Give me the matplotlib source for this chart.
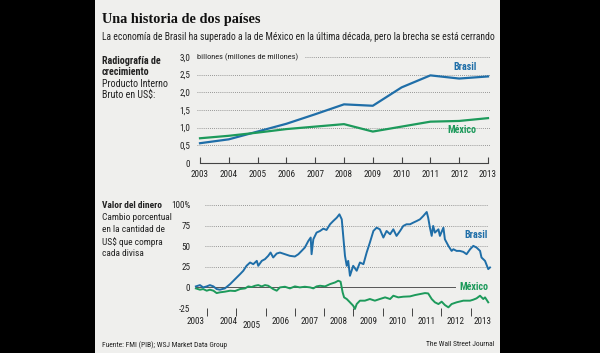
import matplotlib
matplotlib.use('Agg')
import matplotlib.pyplot as plt
from matplotlib import font_manager as fm
from matplotlib.patches import Rectangle

# PIB en billones de US$
anios = [2003, 2004, 2005, 2006, 2007, 2008, 2009, 2010, 2011, 2012, 2013]
pib_brasil = [0.56, 0.67, 0.89, 1.11, 1.38, 1.66, 1.62, 2.14, 2.48, 2.39, 2.45]
pib_mexico = [0.70, 0.77, 0.86, 0.96, 1.03, 1.10, 0.89, 1.03, 1.17, 1.19, 1.27]

# cambio porcentual frente al dolar
fecha_brasil = [2003.62, 2003.76, 2003.87, 2003.99, 2004.10, 2004.22, 2004.33, 2004.44, 2004.61, 2004.79,
                2004.96, 2005.13, 2005.24, 2005.35, 2005.47, 2005.58, 2005.70, 2005.75, 2005.87, 2005.98,
                2006.09, 2006.17, 2006.26, 2006.38, 2006.49, 2006.66, 2006.83, 2007.00, 2007.12, 2007.23,
                2007.34, 2007.46, 2007.54, 2007.57, 2007.63, 2007.74, 2007.86, 2007.97, 2008.08, 2008.20,
                2008.31, 2008.43, 2008.52, 2008.60, 2008.65, 2008.71, 2008.77, 2008.82, 2008.88, 2008.99,
                2009.11, 2009.22, 2009.34, 2009.45, 2009.56, 2009.68, 2009.79, 2009.90, 2010.02, 2010.13,
                2010.25, 2010.36, 2010.47, 2010.59, 2010.70, 2010.81, 2010.93, 2011.04, 2011.16, 2011.27,
                2011.38, 2011.50, 2011.55, 2011.61, 2011.67, 2011.72, 2011.78, 2011.90, 2011.95, 2012.07,
                2012.12, 2012.24, 2012.35, 2012.41, 2012.52, 2012.63, 2012.75, 2012.86, 2012.98, 2013.09,
                2013.20, 2013.32, 2013.37, 2013.49, 2013.60, 2013.66]
cambio_brasil = [1.2, 2.8, 0, 1.2, 2.8, 1.2, -2.0, -2.8, -1.2, 4.0,
                 10.1, 16.1, 20.2, 26.2, 30.2, 28.2, 32.2, 26.2, 32.2, 34.3,
                 38.3, 42.3, 36.3, 41.1, 42.3, 40.3, 38.3, 37.5, 40.3, 44.3,
                 48.4, 56.4, 60.5, 40.3, 58.4, 66.5, 68.5, 71.3, 69.7, 76.6,
                 80.6, 84.6, 88.7, 82.6, 62.5, 38.3, 26.2, 32.2, 14.1, 26.2,
                 20.2, 30.2, 28.2, 42.3, 54.4, 68.5, 72.5, 70.5, 60.5, 68.5,
                 64.5, 70.5, 62.5, 68.5, 74.6, 76.6, 76.6, 78.6, 80.6, 82.6,
                 86.6, 91.5, 84.6, 72.5, 62.5, 74.6, 66.5, 70.5, 62.5, 72.5,
                 58.4, 50.4, 44.3, 46.3, 44.3, 44.3, 43.1, 40.3, 46.3, 50.4,
                 48.4, 44.3, 36.3, 32.2, 22.2, 24.2]

fecha_mexico = [2003.62, 2003.76, 2003.87, 2003.99, 2004.10, 2004.22, 2004.33, 2004.44, 2004.61, 2004.79,
                2004.96, 2005.13, 2005.30, 2005.41, 2005.52, 2005.64, 2005.75, 2005.87, 2005.98, 2006.09,
                2006.26, 2006.38, 2006.49, 2006.66, 2006.83, 2007.00, 2007.17, 2007.34, 2007.52, 2007.63,
                2007.74, 2007.86, 2008.03, 2008.20, 2008.37, 2008.48, 2008.56, 2008.63, 2008.68, 2008.77,
                2008.88, 2008.99, 2009.05, 2009.11, 2009.22, 2009.39, 2009.56, 2009.73, 2009.90, 2010.08,
                2010.25, 2010.36, 2010.53, 2010.70, 2010.93, 2011.10, 2011.27, 2011.44, 2011.55, 2011.67,
                2011.78, 2011.90, 2012.01, 2012.12, 2012.24, 2012.35, 2012.52, 2012.75, 2012.98, 2013.09,
                2013.20, 2013.32, 2013.43, 2013.49, 2013.60]
cambio_mexico = [-1.2, -2.8, -2.0, -4.0, -2.8, -4.0, -6.9, -6.0, -5.2, -4.0,
                 -4.4, -2.0, -1.2, 1.2, 0.4, 2.0, 2.8, 1.2, 2.8, 2.0,
                 -2.0, -4.0, 0, 0.8, -1.2, 1.2, 0, 0.8, 0, -1.2,
                 1.2, 2.0, 1.2, 4.0, 6.0, 8.1, 6.9, -6.0, -12.1, -14.1,
                 -18.1, -22.2, -26.2, -20.2, -16.1, -16.1, -14.1, -16.1, -14.1, -12.1,
                 -14.1, -10.1, -12.1, -11.3, -10.9, -9.3, -8.1, -6.9, -7.3, -14.1,
                 -18.1, -20.2, -17.3, -21.4, -24.2, -20.2, -18.1, -16.1, -16.1, -14.9,
                 -13.3, -10.1, -14.1, -12.1, -18.1]

pib_ticks = [0, 0.5, 1.0, 1.5, 2.0, 2.5, 3.0]
pib_labels = ['0', '0,5', '1,0', '1,5', '2,0', '2,5', '3,0']
cambio_ticks = [-25, 0, 25, 50, 75, 100]
cambio_labels = ['-25', '0', '25', '50', '75', '100%']

AZUL = '#1f6ea8'
VERDE = '#1d9a5b'
TEXTO = '#222222'
GRIS = '#7a7a7a'
FONDO = '#efefed'


def have(name):
    try:
        fm.findfont(fm.FontProperties(family=name), fallback_to_default=False)
        return True
    except ValueError:
        return False


candidatas = ['Roboto Condensed', 'Liberation Sans Narrow', 'Open Sans Condensed',
              'Noto Sans Condensed', 'DejaVu Sans Condensed', 'Liberation Sans']
NARROW = next((f for f in candidatas if have(f)), 'DejaVu Sans')
plt.rcParams['font.family'] = [NARROW, 'DejaVu Sans']

W, H = 600, 353
fig = plt.figure(figsize=(W / 100, H / 100), dpi=100)
fig.patch.set_facecolor('black')
fig.patches.append(Rectangle((95 / W, 0), 405 / W, 1, transform=fig.transFigure,
                             facecolor=FONDO, edgecolor='none', zorder=-10))
renderer = fig.canvas.get_renderer()


def fx(px):
    return px / W


def fy(py):
    return 1 - py / H


def box(x0, y0, x1, y1):
    return [fx(x0), fy(y1), (x1 - x0) / W, (y1 - y0) / H]


def fit(t, ancho):
    # ajusta el tamaño de letra para que el texto ocupe 'ancho' pixeles
    w = t.get_window_extent(renderer).width
    t.set_fontsize(t.get_fontsize() * ancho / w)
    return t.get_fontsize()


# titulos
t = fig.text(fx(102), fy(20), 'Una historia de dos países', family='Liberation Serif',
             weight='bold', fontsize=11, color='#111', va='center')
fit(t, 158)
t = fig.text(fx(102), fy(37), 'La economía de Brasil ha superado a la de México en la última década, '
             'pero la brecha se está cerrando', fontsize=7.2, color=TEXTO, va='center')
fit(t, 392)

# panel superior
t = fig.text(fx(102), fy(84), 'Producto Interno', fontsize=7.3, color=TEXTO, va='center')
tam = min(fit(t, 66), 7.5)
t.set_fontsize(tam)
fig.text(fx(102), fy(61), 'Radiografía de', fontsize=tam, weight='bold', color=TEXTO, va='center')
fig.text(fx(102), fy(72), 'crecimiento', fontsize=tam, weight='bold', color=TEXTO, va='center')
fig.text(fx(102), fy(95), 'Bruto en US$:', fontsize=tam, color=TEXTO, va='center')

t = fig.text(0, 0, '2003', fontsize=7)
tam_eje = min(fit(t, 18), 7)
t.remove()

ax1 = fig.add_axes(box(197, 57, 490, 163))
ax1.set_facecolor('none')
ax1.set_xlim(2003 - 3 / 28.8, 2013 + 2 / 28.8)
ax1.set_ylim(0, 3.0)
for y in pib_ticks[1:-1]:
    ax1.axhline(y, color=GRIS, lw=0.6, ls=(0, (1, 1.5)), zorder=1)
ax1.axhline(3.0, xmin=0.37, xmax=1, color=GRIS, lw=0.6, ls=(0, (1, 1.5)), zorder=1)
t = ax1.text(0, 3.0, 'billones (millones de millones)', transform=ax1.get_yaxis_transform(),
             fontsize=6.6, color=TEXTO, va='center', ha='left')
fit(t, 102)
ax1.plot([anios[0], anios[-1]], [0, 0], color='#444', lw=0.8, clip_on=False, zorder=2)
ax1.plot(anios, pib_brasil, color=AZUL, lw=1.6, clip_on=False, zorder=3)
ax1.plot(anios, pib_mexico, color=VERDE, lw=1.6, clip_on=False, zorder=3)
ax1.text(2012.6, 2.73, 'Brasil', color=AZUL, weight='bold', fontsize=tam, ha='right', va='center')
ax1.text(2012.6, 0.94, 'México', color=VERDE, weight='bold', fontsize=tam, ha='right', va='center')
for s in ax1.spines.values():
    s.set_visible(False)
ax1.set_yticks(pib_ticks)
ax1.set_yticklabels(pib_labels)
ax1.set_xticks(anios)
ax1.set_xticklabels([str(a) for a in anios])
ax1.tick_params(axis='y', length=0, pad=5, labelsize=tam_eje, labelcolor=TEXTO)
ax1.tick_params(axis='x', direction='in', length=4.5, width=0.8, color='#444',
                pad=5, labelsize=tam_eje, labelcolor=TEXTO)

# panel inferior
t = fig.text(fx(102), fy(218), 'Cambio porcentual', fontsize=7.3, color=TEXTO, va='center')
tam2 = min(fit(t, 70), 7.5)
t.set_fontsize(tam2)
fig.text(fx(102), fy(205), 'Valor del dinero', fontsize=tam2, weight='bold', color=TEXTO, va='center')
fig.text(fx(102), fy(230), 'en la cantidad de', fontsize=tam2, color=TEXTO, va='center')
fig.text(fx(102), fy(242), 'US$ que compra', fontsize=tam2, color=TEXTO, va='center')
fig.text(fx(102), fy(254), 'cada divisa', fontsize=tam2, color=TEXTO, va='center')

ax2 = fig.add_axes(box(196, 205, 490, 308))
ax2.set_facecolor('none')
ax2.set_xlim(2003.625, 2013.66)
ax2.set_ylim(-25, 100)
for y in cambio_ticks:
    if y != 0:
        ax2.axhline(y, xmin=0.03, xmax=0.993, color=GRIS, lw=0.6, ls=(0, (1, 1.5)), zorder=1)
ax2.axhline(0, xmin=0, xmax=0.88, color='#555', lw=0.7, zorder=1)
ax2.plot(fecha_mexico, cambio_mexico, color=VERDE, lw=1.4, clip_on=False, zorder=3)
ax2.plot(fecha_brasil, cambio_brasil, color=AZUL, lw=1.4, clip_on=False, zorder=4)
ax2.text(2013.6, 64, 'Brasil', color=AZUL, weight='bold', fontsize=tam, ha='right', va='center')
ax2.text(2013.6, 1, 'México', color=VERDE, weight='bold', fontsize=tam, ha='right', va='center')
for s in ax2.spines.values():
    s.set_visible(False)
ax2.set_yticks(cambio_ticks)
ax2.set_yticklabels(cambio_labels)
ax2.tick_params(axis='y', length=0, pad=4, labelsize=tam_eje, labelcolor=TEXTO)
ax2.set_xticks(anios[1:])
ax2.set_xticklabels([])
ax2.tick_params(axis='x', direction='out', length=5.5, width=0.7, color='#444')
pos_etiquetas = [2003.6, 2004.72, 2005.52, 2006.5, 2007.5, 2008.5, 2009.5,
                 2010.5, 2011.5, 2012.5, 2013.42]
for a, p in zip(anios, pos_etiquetas):
    baja = -12.5 if a == 2005 else -10
    ax2.annotate(str(a), xy=(p, 0), xycoords=('data', 'axes fraction'),
                 xytext=(0, baja), textcoords='offset points', fontsize=tam_eje,
                 color=TEXTO, ha='center', va='center', annotation_clip=False)

# pie
t = fig.text(fx(102), fy(345), 'Fuente: FMI (PIB); WSJ Market Data Group', fontsize=6.2,
             color=TEXTO, va='center')
tam_pie = fit(t, 124)
fig.text(fx(494), fy(345), 'The Wall Street Journal', fontsize=tam_pie, color=TEXTO,
         va='center', ha='right')

fig.savefig('out.png', dpi=100, facecolor=fig.get_facecolor())
